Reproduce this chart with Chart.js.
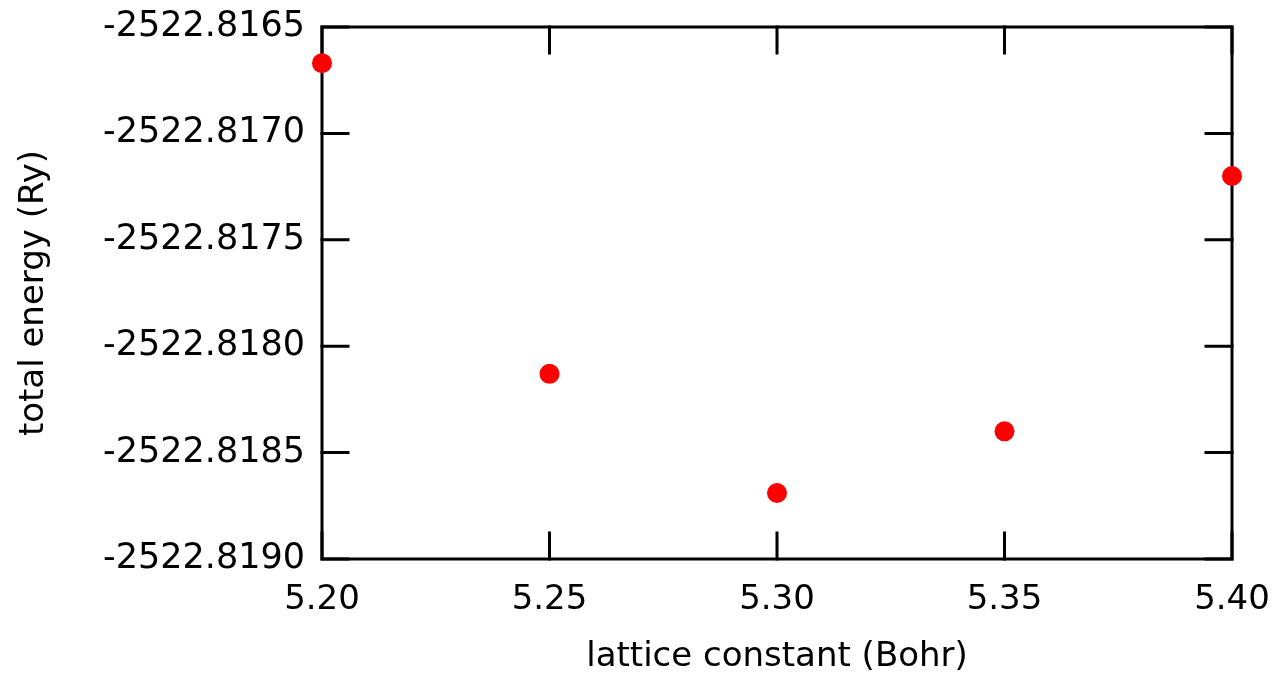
<!DOCTYPE html>
<html>
<head>
<meta charset="utf-8">
<title>Total energy vs lattice constant</title>
<script src="https://cdn.jsdelivr.net/npm/chart.js@4.4.0/dist/chart.umd.min.js"></script>
<style>
    html, body { margin: 0; padding: 0; background: #fff; }
    canvas { display: block; }
</style>
</head>
<body>
<canvas id="energyChart" width="1276" height="678"></canvas>
<script>
// Lattice constant scan (Bohr) and total energies (Ry)
const latticeConstants = [5.20, 5.25, 5.30, 5.35, 5.40];
const totalEnergies = [-2522.81667, -2522.81813, -2522.81869, -2522.81840, -2522.81720];

// Axis ticks
const xTicks = [5.20, 5.25, 5.30, 5.35, 5.40];
const yTicks = [-2522.8190, -2522.8185, -2522.8180, -2522.8175, -2522.8170, -2522.8165];

const fontFamily = '"DejaVu Sans", "Open Sans", sans-serif';
const fontSize = 34;

// Box around the plot with inward tick marks on all four sides
const frameBox = {
    id: 'frameBox',
    beforeDatasetsDraw(chart) {
        const { ctx, chartArea: a, scales: { x, y } } = chart;
        const tickLen = 26;
        ctx.save();
        ctx.strokeStyle = '#000';
        ctx.lineWidth = 3;
        ctx.lineCap = 'square';
        ctx.strokeRect(a.left, a.top, a.right - a.left, a.bottom - a.top);
        ctx.beginPath();
        xTicks.forEach(v => {
            const px = x.getPixelForValue(v);
            ctx.moveTo(px, a.bottom);
            ctx.lineTo(px, a.bottom - tickLen);
            ctx.moveTo(px, a.top);
            ctx.lineTo(px, a.top + tickLen);
        });
        yTicks.forEach(v => {
            const py = y.getPixelForValue(v);
            ctx.moveTo(a.left, py);
            ctx.lineTo(a.left + tickLen, py);
            ctx.moveTo(a.right, py);
            ctx.lineTo(a.right - tickLen, py);
        });
        ctx.stroke();
        ctx.restore();
    }
};

const points = latticeConstants.map((a, i) => ({ x: a, y: totalEnergies[i] }));

new Chart(document.getElementById('energyChart'), {
    type: 'scatter',
    data: {
        datasets: [{
            label: 'total energy',
            data: points,
            backgroundColor: '#ff0000',
            borderWidth: 0,
            pointRadius: 10,
            pointHoverRadius: 10,
            clip: false
        }]
    },
    options: {
        responsive: false,
        animation: false,
        events: [],
        layout: { padding: { top: 27, right: 44, left: 0, bottom: 0 } },
        plugins: {
            legend: { display: false },
            tooltip: { enabled: false }
        },
        scales: {
            x: {
                type: 'linear',
                min: xTicks[0],
                max: xTicks[xTicks.length - 1],
                grid: { display: false, drawTicks: false },
                border: { display: false },
                afterBuildTicks: scale => { scale.ticks = xTicks.map(v => ({ value: v })); },
                afterFit: scale => {
                    scale.height = 119;
                    scale.paddingLeft = 0;
                    scale.paddingRight = 0;
                },
                ticks: {
                    color: '#000',
                    padding: 21,
                    maxRotation: 0,
                    font: { family: fontFamily, size: fontSize },
                    callback: v => Number(v).toFixed(2)
                },
                title: {
                    display: true,
                    text: 'lattice constant (Bohr)',
                    color: '#000',
                    font: { family: fontFamily, size: fontSize },
                    padding: { top: 0, bottom: 0 }
                }
            },
            y: {
                type: 'linear',
                min: yTicks[0],
                max: yTicks[yTicks.length - 1],
                grid: { display: false, drawTicks: false },
                border: { display: false },
                afterBuildTicks: scale => { scale.ticks = yTicks.map(v => ({ value: v })); },
                afterFit: scale => {
                    scale.width = 322;
                    scale.paddingTop = 0;
                    scale.paddingBottom = 0;
                },
                ticks: {
                    color: '#000',
                    padding: 17,
                    font: { family: fontFamily, size: 35 },
                    callback: v => Number(v).toFixed(4)
                },
                title: {
                    display: true,
                    text: 'total energy (Ry)',
                    color: '#000',
                    font: { family: fontFamily, size: fontSize },
                    padding: { top: 14, bottom: 0 }
                }
            }
        }
    },
    plugins: [frameBox]
});
</script>
</body>
</html>
